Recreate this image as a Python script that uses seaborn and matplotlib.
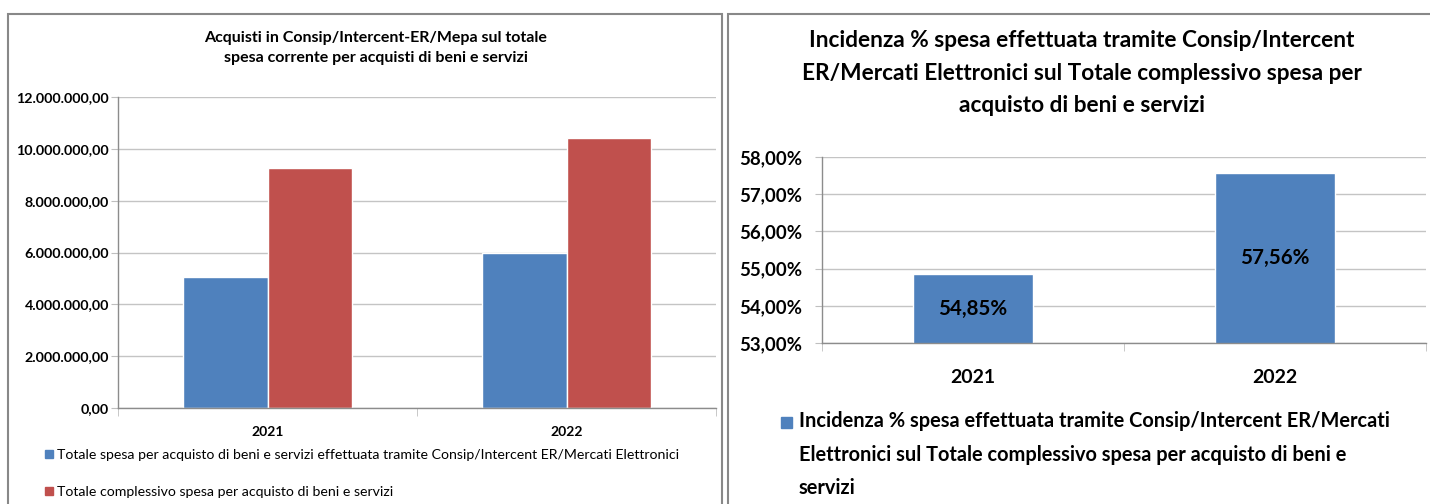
import pandas as pd
import matplotlib.pyplot as plt
import seaborn as sns
from matplotlib.patches import Patch, Rectangle
from matplotlib.ticker import FuncFormatter, FixedLocator

# Dati
anni = ["2021", "2022"]
spesa_consip = [5070000, 6000000]
spesa_totale = [9250000, 10420000]
incidenza = [54.85, 57.56]
serie = [
    "Totale spesa per acquisto di beni e servizi effettuata tramite Consip/Intercent ER/Mercati Elettronici",
    "Totale complessivo spesa per acquisto di beni e servizi",
]
legenda_dx = ("Incidenza % spesa effettuata tramite Consip/Intercent ER/Mercati\n"
              "Elettronici sul Totale complessivo spesa per acquisto di beni e\nservizi")
titolo_sx = "Acquisti in Consip/Intercent-ER/Mepa sul totale\nspesa corrente per acquisti di beni e servizi"
titolo_dx = ("Incidenza % spesa effettuata tramite Consip/Intercent\n"
             "ER/Mercati Elettronici sul Totale complessivo spesa per\nacquisto di beni e servizi")

BLU = "#4F81BD"
ROSSO = "#C0504D"
GRIGIO = "#888888"

sns.set_style("white")
plt.rcParams["font.family"] = ["Lato", "DejaVu Sans"]
plt.rcParams["text.color"] = "black"
plt.rcParams["xtick.color"] = "black"
plt.rcParams["ytick.color"] = "black"

df = pd.DataFrame({
    "anno": anni * 2,
    "valore": spesa_consip + spesa_totale,
    "serie": [serie[0]] * 2 + [serie[1]] * 2,
})

W, H = 1430, 504
fig = plt.figure(figsize=(W / 100, H / 100), dpi=100)


def fx(px):
    return px / W


def fy(py):
    return 1 - py / H


# cornici
fig.add_artist(Rectangle((fx(8), fy(520)), fx(714), fy(14) - fy(520), transform=fig.transFigure,
                         fill=False, edgecolor=GRIGIO, lw=1.5))
fig.add_artist(Rectangle((fx(728), fy(520)), fx(720), fy(14) - fy(520), transform=fig.transFigure,
                         fill=False, edgecolor=GRIGIO, lw=1.5))


def it_num(v, p=None):
    return f"{v:,.2f}".replace(",", "X").replace(".", ",").replace("X", ".")


def it_pct(v, p=None):
    return f"{v:.2f}%".replace(".", ",")


def stile_assi(ax, fs_y, fs_x, pad_x, pad_y):
    sns.despine(ax=ax, top=True, right=True)
    for s in ["left", "bottom"]:
        ax.spines[s].set_color("#8c8c8c")
        ax.spines[s].set_linewidth(1)
    ax.yaxis.grid(True, color="#c4c4c4", lw=1)
    ax.set_axisbelow(True)
    ax.set_xlim(-0.5, 1.5)
    ax.xaxis.set_minor_locator(FixedLocator([-0.5, 0.5, 1.5]))
    ax.tick_params(axis="x", which="major", length=0, pad=pad_x)
    ax.tick_params(axis="x", which="minor", length=6, color="#bfbfbf", direction="out", bottom=True)
    ax.tick_params(axis="y", length=5, color="#bfbfbf", direction="out", left=True, pad=pad_y)
    ax.set_xlabel("")
    ax.set_ylabel("")
    for t in ax.get_yticklabels():
        t.set_fontsize(fs_y)
        t.set_fontweight("bold")
    for t in ax.get_xticklabels():
        t.set_fontsize(fs_x)
        t.set_fontweight("bold")


# Grafico sinistro
ax1 = fig.add_axes([fx(118), fy(408), fx(716) - fx(118), fy(97) - fy(408)])
sns.barplot(data=df, x="anno", y="valore", hue="serie", palette=[BLU, ROSSO],
            width=0.565, saturation=1, ax=ax1, legend=False)
ax1.set_ylim(0, 12000000)
ax1.set_yticks(range(0, 12000001, 2000000))
ax1.yaxis.set_major_formatter(FuncFormatter(it_num))
stile_assi(ax1, 10.3, 10, 13, 1.5)
fig.text(fx(376), fy(48), titolo_sx, ha="center", va="center", fontsize=11.5,
         fontweight="bold", linespacing=1.5)
fig.legend(handles=[Patch(color=BLU), Patch(color=ROSSO)], labels=serie,
           loc="upper left", bbox_to_anchor=(fx(45), fy(449)), frameon=False,
           fontsize=10.2, handlelength=0.55, handleheight=0.55, handletextpad=0.3,
           labelspacing=1.75, borderaxespad=0, borderpad=0)

# Grafico destro
ax2 = fig.add_axes([fx(822), fy(343), fx(1426) - fx(822), fy(157) - fy(343)])
sns.barplot(x=anni, y=incidenza, color=BLU, width=0.4, saturation=1, ax=ax2)
ax2.set_ylim(53, 58)
ax2.set_yticks(range(53, 59))
ax2.yaxis.set_major_formatter(FuncFormatter(it_pct))
stile_assi(ax2, 13.4, 14, 19, 9)
for i, v in enumerate(incidenza):
    ax2.text(i, (53 + v) / 2, it_pct(v), ha="center", va="center", fontsize=14.8, fontweight="bold")
fig.text(fx(1082), fy(73), titolo_dx, ha="center", va="center", fontsize=16.3,
         fontweight="bold", linespacing=1.68)

# legenda destra
fig.add_artist(Rectangle((fx(781), fy(428)), fx(11), fy(417) - fy(428), transform=fig.transFigure,
                         color=BLU))
fig.text(fx(799), fy(411), legenda_dx, ha="left", va="top", fontsize=14.4,
         fontweight="bold", linespacing=1.85)

fig.savefig("out.png", dpi=100)
